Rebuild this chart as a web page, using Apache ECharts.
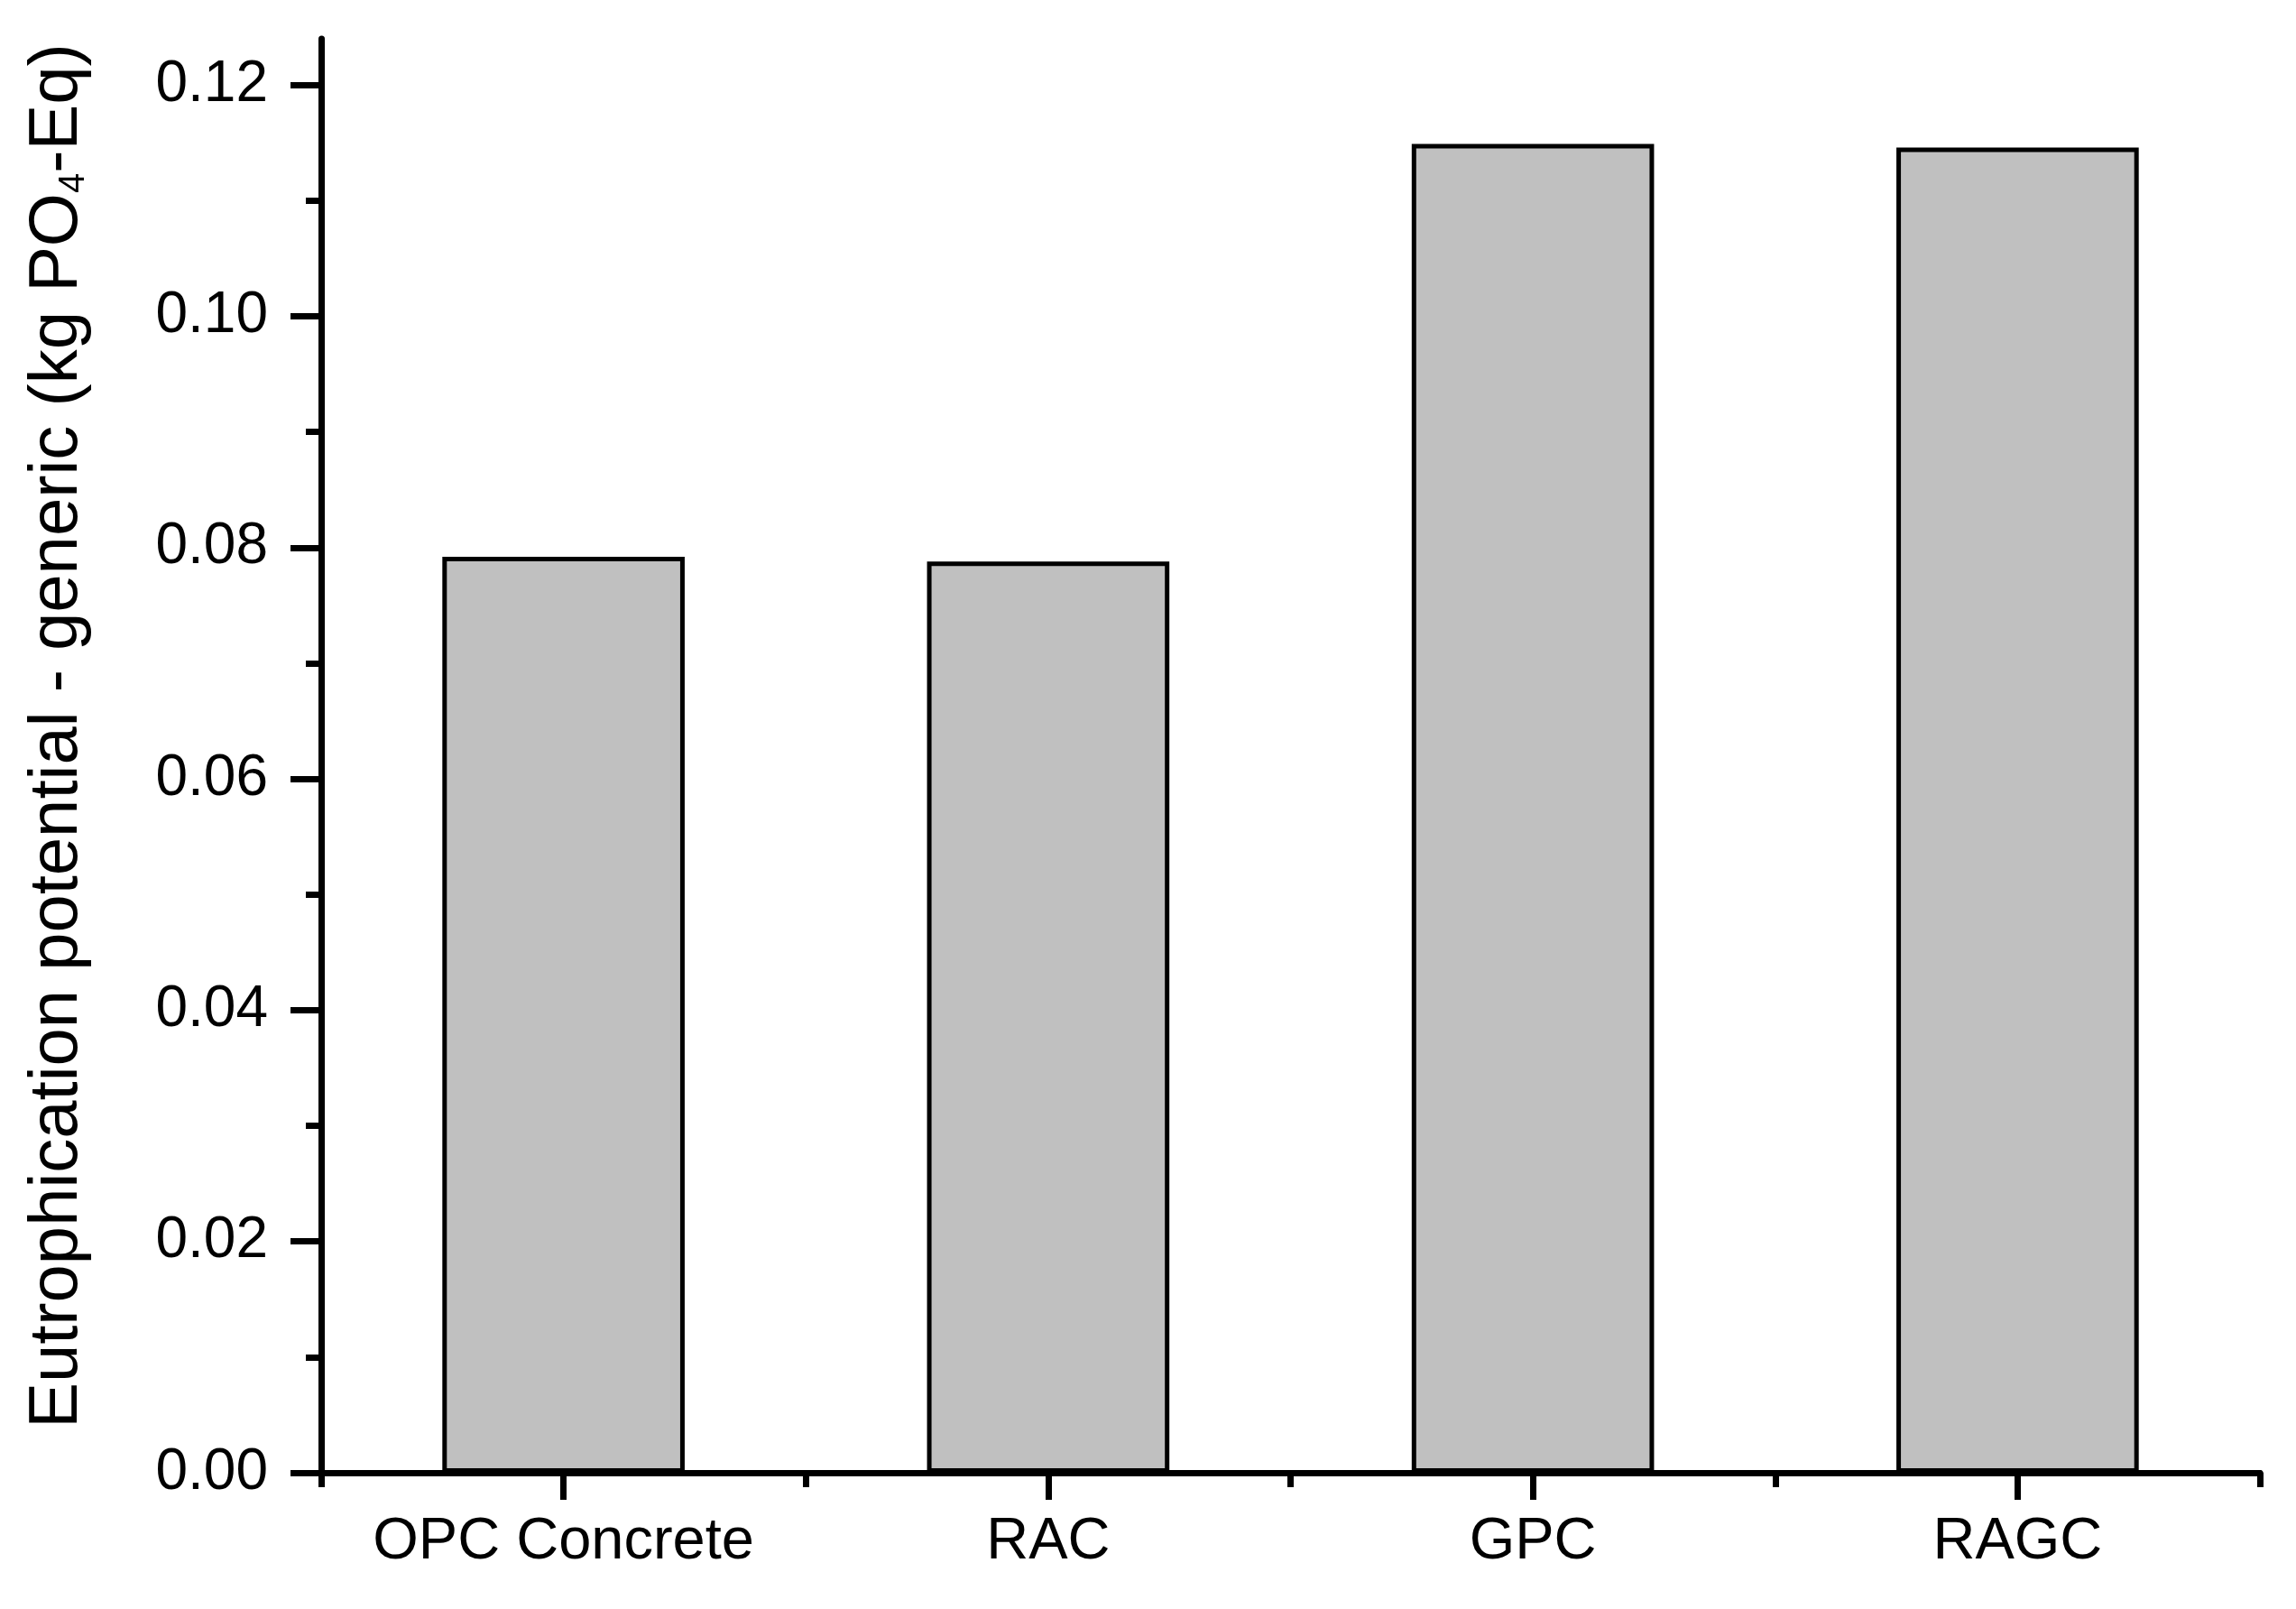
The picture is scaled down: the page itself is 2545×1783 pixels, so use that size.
<!DOCTYPE html>
<html><head><meta charset="utf-8">
<script src="https://cdn.jsdelivr.net/npm/echarts@6/dist/echarts.min.js"></script>
<style>html,body{margin:0;padding:0;background:#fff}#c{width:2545px;height:1783px}</style>
</head><body><div id="c"></div>
<script>
const categories = ['OPC Concrete', 'RAC', 'GPC', 'RAGC'];
const values = [0.0792, 0.0788, 0.1149, 0.1146];
const yMajorTicks = [0, 0.02, 0.04, 0.06, 0.08, 0.10, 0.12];
const yMinorTicks = [0.01, 0.03, 0.05, 0.07, 0.09, 0.11];
const yTitle = 'Eutrophication potential - generic (kg PO{sub|4}-Eq)';

const FONT = 'Liberation Sans';
const chart = echarts.init(document.getElementById('c'), null, {renderer: 'canvas'});
const axisLine = {show: true, lineStyle: {color: '#000', width: 7}};
chart.setOption({
  animation: false,
  backgroundColor: '#fff',
  grid: {left: 356, right: 40, top: 43, bottom: 151, containLabel: false, outerBoundsMode: 'none'},
  xAxis: [
    {
      type: 'category', data: categories, position: 'bottom',
      axisLine: axisLine,
      axisTick: {show: true, alignWithLabel: true, length: 30, lineStyle: {color: '#000', width: 7}},
      axisLabel: {interval: 0, hideOverlap: false, fontFamily: FONT, fontSize: 65, color: '#000', margin: 45},
      splitLine: {show: false}
    },
    {
      type: 'category', data: categories, position: 'bottom',
      axisLine: axisLine,
      axisTick: {show: true, interval: 0, length: 16, lineStyle: {color: '#000', width: 7}},
      axisLabel: {show: false},
      splitLine: {show: false}
    }
  ],
  yAxis: [
    {
      type: 'value', min: 0, max: 0.124, position: 'left',
      axisLine: axisLine,
      axisTick: {show: true, customValues: yMajorTicks, length: 34, lineStyle: {color: '#000', width: 7}},
      axisLabel: {customValues: yMajorTicks, fontFamily: FONT, fontSize: 64, color: '#000', margin: 59,
        formatter: v => Number(v).toFixed(2)},
      splitLine: {show: false},
      name: yTitle, nameLocation: 'middle', nameRotate: 90, nameGap: 254,
      nameTextStyle: {fontFamily: FONT, fontSize: 76, color: '#000', padding: [0, 0, 0, 44],
        rich: {sub: {fontFamily: FONT, fontSize: 40, lineHeight: 40, padding: [90, 0, 0, 0], verticalAlign: 'bottom', color: '#000'}}}
    },
    {
      type: 'value', min: 0, max: 0.124, position: 'left',
      axisLine: {show: false},
      axisTick: {show: true, customValues: yMinorTicks, length: 17, lineStyle: {color: '#000', width: 7}},
      axisLabel: {show: false},
      splitLine: {show: false}
    }
  ],
  series: [{
    type: 'bar', xAxisIndex: 0, yAxisIndex: 0, data: values, barWidth: '50%',
    itemStyle: {color: '#c0c0c0', borderColor: '#000', borderWidth: 5}
  }]
});
</script></body></html>
